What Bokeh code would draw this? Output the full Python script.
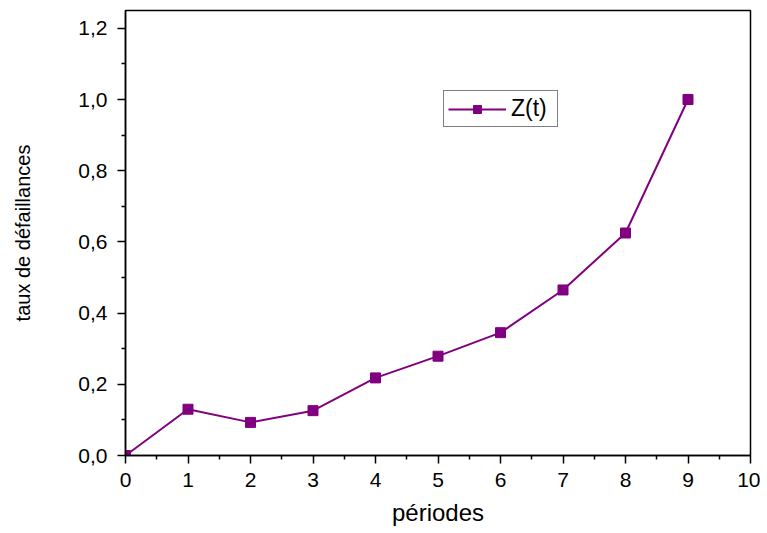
from bokeh.plotting import figure
from bokeh.models import FixedTicker, CustomJSTickFormatter, Range1d, Legend, LegendItem
from bokeh.embed import file_html
from bokeh.resources import INLINE

periodes = [0, 1, 2, 3, 4, 5, 6, 7, 8, 9]
taux = [0.0, 0.130, 0.093, 0.126, 0.218, 0.279, 0.345, 0.465, 0.625, 1.0]
x_ticks = [0, 1, 2, 3, 4, 5, 6, 7, 8, 9, 10]
y_ticks = [0.0, 0.2, 0.4, 0.6, 0.8, 1.0, 1.2]

FONT = "Liberation Sans"
COLOR = "#800080"

p = figure(width=760, height=530, output_backend="svg", toolbar_location=None,
           x_range=Range1d(0, 10), y_range=Range1d(0, 1.25),
           min_border_left=125, min_border_top=10, min_border_right=10, min_border_bottom=75)
p.xgrid.visible = False
p.ygrid.visible = False
p.outline_line_color = "black"
p.outline_line_width = 1.5

ln = p.line(periodes, taux, line_color=COLOR, line_width=2)
sc = p.scatter(periodes, taux, marker="square", size=10, fill_color=COLOR, line_color=COLOR)

p.xaxis.ticker = FixedTicker(ticks=x_ticks, minor_ticks=[v + 0.5 for v in x_ticks[:-1]])
p.yaxis.ticker = FixedTicker(ticks=y_ticks, minor_ticks=[round(v + 0.1, 1) for v in y_ticks[:-1]])
p.yaxis.formatter = CustomJSTickFormatter(code="return tick.toFixed(1).replace('.', ',');")

for ax in (p.xaxis[0], p.yaxis[0]):
    ax.axis_line_width = 1.5
    ax.major_tick_in = 0
    ax.major_tick_out = 8
    ax.minor_tick_in = 0
    ax.minor_tick_out = 4
    ax.major_tick_line_width = 1.5
    ax.minor_tick_line_width = 1.5
    ax.major_label_text_font = FONT
    ax.major_label_text_font_size = "21px"
    ax.major_label_text_color = "black"
    ax.axis_label_text_font = FONT
    ax.axis_label_text_font_style = "normal"
    ax.axis_label_text_color = "black"

p.xaxis.axis_label = "périodes"
p.yaxis.axis_label = "taux de défaillances"
p.xaxis.axis_label_text_font_size = "24px"
p.yaxis.axis_label_text_font_size = "20px"
p.xaxis.major_label_standoff = 9
p.yaxis.major_label_standoff = 10
p.xaxis.axis_label_standoff = 9
p.yaxis.axis_label_standoff = 41

legend = Legend(items=[LegendItem(label="Z(t)", renderers=[ln, sc])],
                location=(318, 328), glyph_width=58, glyph_height=20,
                label_text_font=FONT, label_text_font_size="23px",
                label_text_color="black", label_width=42,
                border_line_color="black", border_line_width=1,
                padding=4, margin=0, spacing=0, label_standoff=5,
                background_fill_alpha=1)
p.add_layout(legend)

open("out.html", "w").write(file_html(p, INLINE))
